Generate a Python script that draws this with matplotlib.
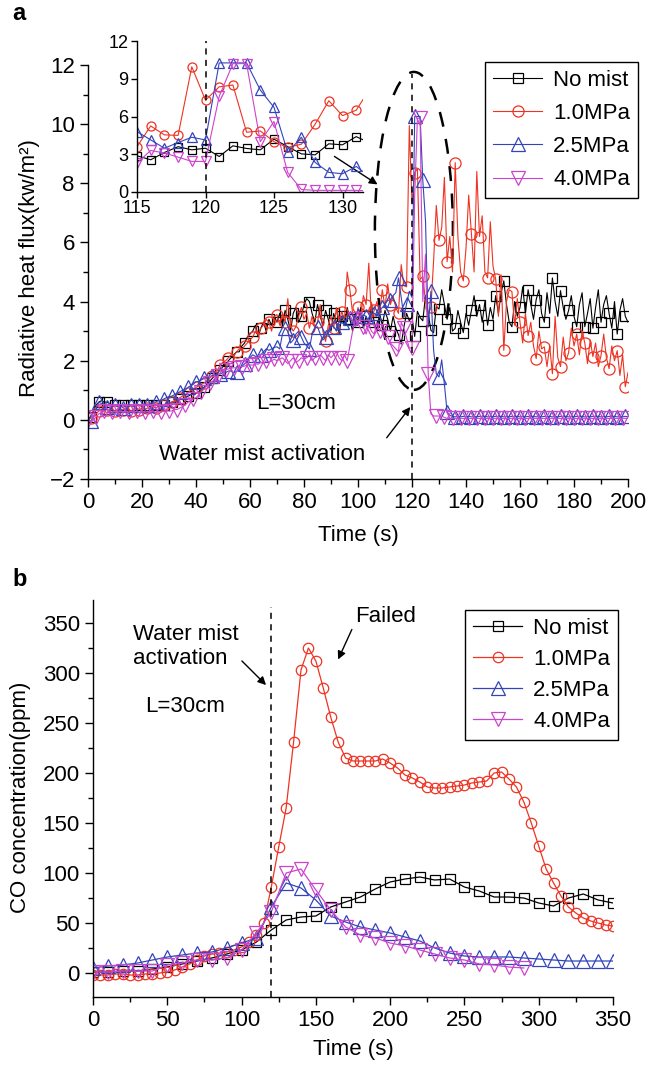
import matplotlib
matplotlib.use('Agg')
import matplotlib.pyplot as plt
from matplotlib.patches import Ellipse
from matplotlib.ticker import MultipleLocator
import numpy as np

plt.rcParams['font.family'] = ['Liberation Sans', 'DejaVu Sans']
plt.rcParams['font.size'] = 16

labels = ['No mist', '1.0MPa', '2.5MPa', '4.0MPa']
colors = ['black', '#ee3322', '#3344bb', '#cc44cc']
markers = ['s', 'o', '^', 'v']

# (a) radiative heat flux, one sample per second, 0-200 s
t_flux = np.arange(0, 201)
flux_nomist = [
    0.05, 0.1, 0.3, 0.5, 0.6, 0.65, 0.6, 0.6, 0.55, 0.5,
    0.5, 0.45, 0.5, 0.5, 0.45, 0.5, 0.5, 0.45, 0.5, 0.5,
    0.45, 0.5, 0.5, 0.45, 0.5, 0.5, 0.55, 0.5, 0.5, 0.55,
    0.55, 0.6, 0.6, 0.65, 0.7, 0.7, 0.75, 0.8, 0.85, 0.9,
    0.9, 0.95, 1.0, 1.1, 1.2, 1.3, 1.4, 1.5, 1.6, 1.7,
    1.8, 1.9, 2.0, 2.1, 2.2, 2.3, 2.3, 2.5, 2.6, 2.8,
    2.9, 3.0, 3.2, 2.8, 3.1, 3.3, 3.0, 3.4, 3.2, 3.5,
    3.3, 3.6, 3.2, 3.7, 3.4, 3.0, 3.6, 3.8, 3.3, 3.5,
    3.9, 4.1, 4.0, 3.6, 3.3, 3.9, 3.5, 3.2, 3.7, 3.4,
    3.0, 3.6, 3.3, 2.9, 3.5, 3.2, 3.8, 3.4, 3.0, 3.6,
    3.3, 3.8, 3.1, 3.5, 3.2, 3.9, 3.3, 3.0, 3.6, 3.2,
    3.7, 3.4, 3.0, 3.5, 3.1, 2.88, 2.56, 3.14, 3.6, 3.35,
    3.48, 2.82, 3.67, 3.46, 3.35, 4.2, 3.6, 3.03, 2.95, 3.83,
    3.75, 4.4, 3.9, 3.4, 3.8, 3.0, 3.1, 3.7, 3.3, 2.95,
    3.6, 3.2, 3.7, 4.2, 3.5, 3.9, 3.3, 4.0, 3.2, 3.8,
    3.4, 4.2, 3.6, 4.3, 4.7, 3.9, 3.3, 3.15, 4.0, 3.5,
    3.8, 4.5, 3.6, 4.4, 3.9, 3.4, 4.07, 4.4, 3.6, 3.3,
    4.3, 3.6, 4.8, 4.0, 3.5, 4.37, 3.8, 3.4, 3.7, 4.2,
    3.5, 3.15, 3.9, 4.3, 3.15, 3.6, 4.1, 3.1, 3.8, 4.4,
    3.3, 3.9, 4.2, 3.6, 3.1, 4.0, 2.9, 3.7, 4.1, 3.5,
    3.3,
]
flux_10 = [
    0.0, 0.05, 0.1, 0.2, 0.3, 0.35, 0.3, 0.35, 0.3, 0.35,
    0.3, 0.35, 0.3, 0.35, 0.4, 0.35, 0.3, 0.35, 0.4, 0.35,
    0.4, 0.35, 0.4, 0.4, 0.45, 0.4, 0.45, 0.5, 0.5, 0.55,
    0.55, 0.6, 0.65, 0.7, 0.75, 0.8, 0.85, 0.9, 1.0, 1.05,
    1.1, 1.15, 1.2, 1.25, 1.3, 1.4, 1.5, 1.6, 1.7, 1.85,
    1.95, 2.0, 2.1, 2.2, 2.15, 2.3, 2.4, 2.37, 2.5, 2.6,
    2.7, 2.8, 3.0, 2.9, 3.1, 3.2, 3.4, 3.3, 3.0, 3.5,
    3.56, 3.2, 3.6, 3.3, 4.1, 3.2, 3.0, 3.15, 3.5, 3.8,
    3.4, 3.6, 3.1, 3.5, 3.15, 3.3, 3.9, 3.0, 2.65, 3.2,
    3.5, 3.1, 3.8, 3.3, 3.66, 3.4, 5.0, 4.4, 3.6, 3.3,
    3.8, 3.5, 4.2, 3.9, 5.3, 3.4, 3.7, 4.0, 3.6, 4.4,
    3.8, 4.6, 3.9, 4.2, 3.8, 3.6, 5.25, 4.54, 4.5, 9.95,
    7.3, 8.36, 8.5, 4.75, 4.85, 4.0, 3.54, 3.8, 5.38, 7.25,
    6.07, 6.5, 8.2, 5.35, 6.2, 5.0, 8.7, 6.2, 5.0, 4.7,
    5.8, 7.6, 6.3, 5.0, 8.4, 6.2, 6.9, 5.0, 4.8, 6.7,
    5.2, 4.75, 3.5, 4.9, 2.35, 4.0, 4.4, 4.34, 3.2, 4.1,
    3.3, 2.6, 3.6, 2.85, 3.3, 2.5, 2.07, 3.0, 2.4, 2.47,
    1.8, 2.5, 1.56, 3.5, 2.1, 1.8, 2.8, 2.0, 2.27, 3.1,
    2.5, 2.9, 2.2, 3.0, 2.6, 1.9, 2.7, 2.14, 2.6, 1.8,
    2.17, 2.9, 2.1, 1.73, 2.5, 2.0, 2.34, 1.5, 2.2, 1.12,
    1.6,
]
flux_25 = [
    0.0, -0.05, 0.1, 0.35, 0.6, 0.55, 0.5, 0.45, 0.5, 0.45,
    0.5, 0.45, 0.5, 0.4, 0.5, 0.45, 0.5, 0.45, 0.55, 0.5,
    0.5, 0.55, 0.5, 0.55, 0.6, 0.6, 0.65, 0.65, 0.7, 0.75,
    0.78, 0.8, 0.85, 0.9, 0.95, 1.0, 1.0, 1.1, 1.15, 1.2,
    1.29, 1.3, 1.35, 1.4, 1.45, 1.45, 1.5, 1.5, 1.55, 1.55,
    1.6, 1.6, 1.65, 1.65, 1.6, 1.63, 1.7, 1.8, 1.9, 2.0,
    2.1, 2.2, 2.15, 2.1, 2.2, 2.3, 2.4, 2.35, 2.4, 2.45,
    2.47, 2.4, 2.9, 3.1, 3.0, 2.6, 2.7, 2.9, 3.0, 2.8,
    2.6, 2.5, 2.4, 2.9, 3.1, 3.15, 2.9, 2.7, 2.8, 3.0,
    3.2, 3.15, 3.0, 3.2, 3.3, 3.2, 3.4, 3.45, 3.3, 3.4,
    3.5, 3.4, 3.55, 3.5, 3.3, 3.6, 3.6, 3.5, 3.7, 3.8,
    3.9, 3.8, 4.07, 4.2, 4.3, 4.8, 4.14, 3.48, 3.93, 4.35,
    4.14, 10.26, 10.26, 10.26, 8.1, 6.73, 3.14, 4.35, 2.35, 1.56,
    1.45, 2.03, 1.2, 0.27, 0.15, 0.12, 0.1, 0.12, 0.1, 0.12,
    0.1, 0.12, 0.1, 0.12, 0.1, 0.12, 0.1, 0.12, 0.1, 0.12,
    0.1, 0.12, 0.1, 0.12, 0.1, 0.12, 0.1, 0.12, 0.1, 0.12,
    0.1, 0.12, 0.1, 0.12, 0.1, 0.12, 0.1, 0.12, 0.1, 0.12,
    0.1, 0.12, 0.1, 0.12, 0.1, 0.12, 0.1, 0.12, 0.1, 0.12,
    0.1, 0.12, 0.1, 0.12, 0.1, 0.12, 0.1, 0.12, 0.1, 0.12,
    0.1, 0.12, 0.1, 0.12, 0.1, 0.12, 0.1, 0.12, 0.1, 0.12,
    0.1,
]
flux_40 = [
    0.0, -0.1, 0.0, 0.1, 0.2, 0.25, 0.3, 0.25, 0.3, 0.25,
    0.3, 0.25, 0.3, 0.25, 0.3, 0.25, 0.3, 0.25, 0.3, 0.25,
    0.3, 0.25, 0.3, 0.25, 0.3, 0.25, 0.3, 0.25, 0.3, 0.3,
    0.3, 0.3, 0.35, 0.35, 0.4, 0.45, 0.5, 0.6, 0.65, 0.7,
    0.75, 0.85, 0.95, 1.05, 1.15, 1.25, 1.3, 1.4, 1.5, 1.6,
    1.65, 1.7, 1.72, 1.75, 1.76, 1.76, 1.8, 1.8, 1.82, 1.85,
    1.86, 1.85, 1.9, 1.88, 1.95, 1.9, 2.0, 1.95, 2.0, 2.05,
    2.0, 2.05, 2.1, 2.0, 1.9, 2.0, 2.1, 1.95, 2.0, 2.1,
    2.05, 2.1, 2.2, 2.0, 2.1, 2.14, 2.2, 2.1, 2.0, 2.2,
    2.1, 2.2, 2.3, 2.1, 2.0, 2.2, 2.0, 2.5, 3.0, 3.4,
    3.66, 3.3, 3.15, 2.9, 3.2, 3.0, 2.9, 3.3, 3.0, 3.2,
    3.0, 2.8, 2.6, 2.5, 2.4, 2.3, 3.3, 3.1, 2.77, 2.43,
    2.43, 7.6, 10.2, 10.2, 4.0, 5.6, 1.55, 0.2, 0.13, 0.13,
    0.13, 0.13, 0.08, 0.05, 0.05, 0.05, 0.05, 0.05, 0.05, 0.05,
    0.05, 0.05, 0.05, 0.05, 0.05, 0.05, 0.05, 0.05, 0.05, 0.05,
    0.05, 0.05, 0.05, 0.05, 0.05, 0.05, 0.05, 0.05, 0.05, 0.05,
    0.05, 0.05, 0.05, 0.05, 0.05, 0.05, 0.05, 0.05, 0.05, 0.05,
    0.05, 0.05, 0.05, 0.05, 0.05, 0.05, 0.05, 0.05, 0.05, 0.05,
    0.05, 0.05, 0.05, 0.05, 0.05, 0.05, 0.05, 0.05, 0.05, 0.05,
    0.05, 0.05, 0.05, 0.05, 0.05, 0.05, 0.05, 0.05, 0.05, 0.05,
    0.05,
]

# (b) CO concentration
t_co_10 = np.arange(0, 351, 5)
co_10 = [
    -2, -2, -2, -1, -1, -2, -2, -1, -1, 0,
    1, 3, 6, 9, 13, 17, 19, 20, 21, 23,
    26, 31, 38, 50, 86, 126, 165, 231, 303, 325,
    312, 285, 256, 231, 215, 212, 212, 212, 212, 214,
    210, 205, 198, 195, 191, 186, 185, 185, 186, 187,
    188, 190, 191, 192, 200, 201, 194, 186, 171, 150,
    127, 104, 90, 77, 66, 60, 55, 52, 50, 48,
    47,
]
t_co = np.arange(0, 351, 10)
co_nomist = [
    1, 1, 2, 2, 4, 6, 9, 12, 15, 19,
    23, 31, 43, 53, 56, 57, 66, 71, 76, 84,
    91, 94, 96, 93, 94, 86, 82, 76, 76, 75,
    70, 67, 75, 79, 73, 70,
]
co_25 = [
    5, 7, 8, 10, 13, 16, 18, 20, 21, 25,
    30, 35, 66, 90, 85, 73, 57, 51, 46, 43,
    40, 36, 32, 25, 20, 17, 16, 16, 16, 15,
    14, 13, 12, 12, 12, 12,
]
t_co_40 = np.arange(0, 291, 10)
co_40 = [
    1, 1, 2, 2, 2, 8, 10, 13, 13, 15,
    23, 40, 61, 100, 104, 83, 63, 46, 38, 35,
    30, 27, 23, 19, 15, 13, 9, 8, 6, 5,
]

fig = plt.figure(figsize=(6.6, 10.69), dpi=100)
W, H = 660, 1069


def box(left, top, right, bottom):
    return [left / W, 1 - bottom / H, (right - left) / W, (bottom - top) / H]


def clean(ax):
    for s in ['top', 'right']:
        ax.spines[s].set_visible(False)
    for s in ['left', 'bottom']:
        ax.spines[s].set_linewidth(1.0)
    ax.tick_params(which='major', direction='out', length=6, width=1)
    ax.tick_params(which='minor', direction='out', length=3.5, width=1)


# ---- panel a ----
ax_a = fig.add_axes(box(88, 65, 628, 479))
flux = [flux_nomist, flux_10, flux_25, flux_40]
msz = [7, 8, 9.5, 9.5]
mev = [(1, 3), (1, 3), (1, 3), (0, 3)]
for y, c, m, lab, s, me in zip(flux, colors, markers, labels, msz, mev):
    ax_a.plot(t_flux, y, color=c, lw=0.8, marker=m, ms=s, mfc='none',
              mec=c, mew=0.9, markevery=me, label=lab)
ax_a.set_xlim(0, 200)
ax_a.set_ylim(-2, 12)
ax_a.xaxis.set_major_locator(MultipleLocator(20))
ax_a.xaxis.set_minor_locator(MultipleLocator(10))
ax_a.yaxis.set_major_locator(MultipleLocator(2))
ax_a.yaxis.set_minor_locator(MultipleLocator(1))
clean(ax_a)

ax_a.plot([120, 120], [-2, 11.7], color='k', lw=1.1, ls=(0, (4, 3.5)))
ax_a.add_patch(Ellipse((120.7, 6.39), 28.9, 10.75, fill=False, ec='k',
                       lw=1.8, ls=(0, (6, 5))))
ax_a.text(77, 0.54, 'L=30cm', ha='center', va='center')
ax_a.text(64.4, -1.18, 'Water mist activation', ha='center', va='center')
ax_a.annotate('', xy=(120, 0.51), xytext=(110, -0.68),
              arrowprops=dict(arrowstyle='-|>', color='k', lw=1,
                              mutation_scale=12))
ax_a.annotate('', xy=(108.1, 7.91), xytext=(90.4, 8.96),
              arrowprops=dict(arrowstyle='-|>', color='k', lw=1,
                              mutation_scale=12))

leg = ax_a.legend(loc='upper right', bbox_to_anchor=(638 / W, 1 - 62 / H),
                  bbox_transform=fig.transFigure, fontsize=16, fancybox=False,
                  edgecolor='k', framealpha=1, borderaxespad=0,
                  handlelength=2.2, handletextpad=0.5, labelspacing=0.55,
                  borderpad=0.35, numpoints=1)
leg.get_frame().set_linewidth(1.0)

# inset: 115-131 s at full resolution
ax_in = fig.add_axes(box(137, 41, 137 + 13.7 * 16.5, 192))
ax_in.patch.set_alpha(0)
msz_in = [5.5, 6.5, 7.5, 7.5]
for y, c, m, s in zip(flux, colors, markers, msz_in):
    ax_in.plot(t_flux, y, color=c, lw=0.8, marker=m, ms=s, mfc='none',
               mec=c, mew=0.9)
ax_in.axvline(120, color='k', lw=1.1, ls=(0, (4, 3.5)))
ax_in.set_xlim(115, 131.5)
ax_in.set_ylim(0, 12)
ax_in.set_xticks([115, 120, 125, 130])
ax_in.set_yticks([0, 3, 6, 9, 12])
clean(ax_in)
ax_in.tick_params(labelsize=13, length=4, pad=2)

fig.text(30 / W, 1 - 268 / H, 'Radiative heat flux(kw/m²)', rotation=90,
         ha='center', va='center', fontsize=16)
fig.text(358 / W, 1 - 535 / H, 'Time (s)', ha='center', va='center',
         fontsize=16)
fig.text(12 / W, 1 - 14 / H, 'a', fontweight='bold', ha='left',
         va='center', fontsize=17)

# ---- panel b ----
ax_b = fig.add_axes(box(93, 600, 613, 997))
co_x = [t_co, t_co_10, t_co, t_co_40]
co_y = [co_nomist, co_10, co_25, co_40]
msz_b = [7, 7.5, 10.5, 10.5]
for x, y, c, m, lab, s in zip(co_x, co_y, colors, markers, labels, msz_b):
    ax_b.plot(x, y, color=c, lw=0.9, marker=m, ms=s, mfc='none', mec=c,
              mew=0.9, label=lab)
ax_b.set_xlim(0, 350)
ax_b.set_ylim(-24, 373)
ax_b.xaxis.set_major_locator(MultipleLocator(50))
ax_b.xaxis.set_minor_locator(MultipleLocator(25))
ax_b.yaxis.set_major_locator(MultipleLocator(50))
ax_b.yaxis.set_minor_locator(MultipleLocator(25))
clean(ax_b)

ax_b.plot([120, 120], [-24, 366], color='k', lw=1.1, ls=(0, (4, 3.5)))
ax_b.text(26.9, 326.5, 'Water mist\nactivation', ha='left', va='center',
          linespacing=1.2)
ax_b.text(61.9, 266, 'L=30cm', ha='center', va='center')
ax_b.text(176.3, 356, 'Failed', ha='left', va='center')
ax_b.annotate('', xy=(117.8, 286), xytext=(98.9, 314),
              arrowprops=dict(arrowstyle='-|>', color='k', lw=1,
                              mutation_scale=12))
ax_b.annotate('', xy=(164.2, 311), xytext=(175, 346),
              arrowprops=dict(arrowstyle='-|>', color='k', lw=1,
                              mutation_scale=12))

leg_b = ax_b.legend(loc='upper right', bbox_to_anchor=(618 / W, 1 - 610 / H),
                    bbox_transform=fig.transFigure, fontsize=16,
                    fancybox=False, edgecolor='k', framealpha=1,
                    borderaxespad=0, handlelength=2.2, handletextpad=0.5,
                    labelspacing=0.45, borderpad=0.35, numpoints=1)
leg_b.get_frame().set_linewidth(1.0)

fig.text(21 / W, 1 - 797 / H, 'CO concentration(ppm)', rotation=90,
         ha='center', va='center', fontsize=16)
fig.text(353 / W, 1 - 1050 / H, 'Time (s)', ha='center', va='center',
         fontsize=16)
fig.text(12 / W, 1 - 580 / H, 'b', fontweight='bold', ha='left',
         va='center', fontsize=17)

fig.savefig('out.png', dpi=100)
